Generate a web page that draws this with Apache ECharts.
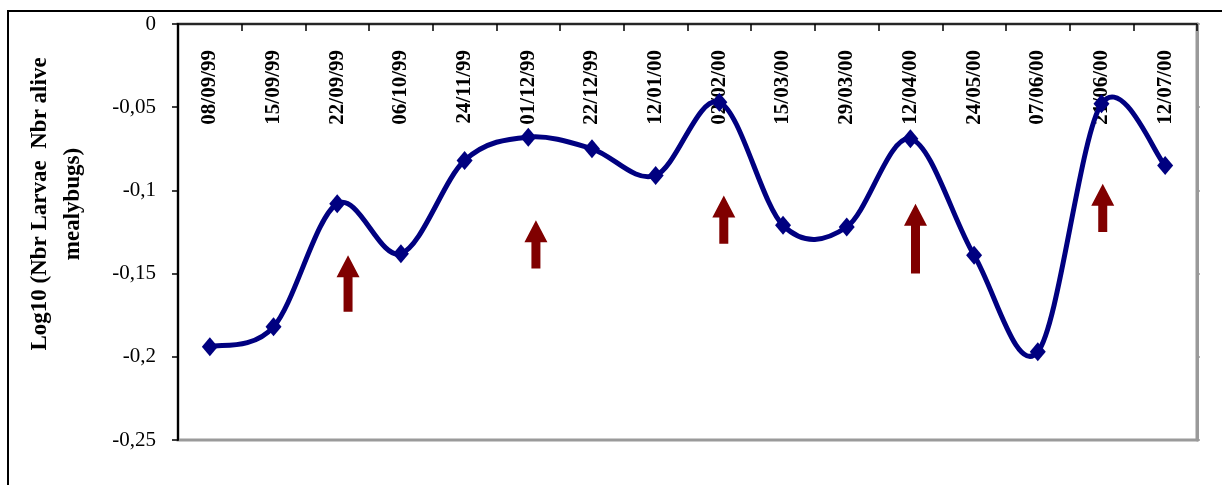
<!DOCTYPE html>
<html>
<head>
<meta charset="utf-8">
<script src="https://cdn.jsdelivr.net/npm/echarts@6/dist/echarts.min.js"></script>
<style>
  html, body { margin: 0; padding: 0; background: #fff; }
  #chart { width: 1222px; height: 485px; }
</style>
</head>
<body>
<div id="chart"></div>
<script>
// dates d'echantillonnage
var dates = ['08/09/99', '15/09/99', '22/09/99', '06/10/99', '24/11/99', '01/12/99', '22/12/99', '12/01/00',
             '02/02/00', '15/03/00', '29/03/00', '12/04/00', '24/05/00', '07/06/00', '21/06/00', '12/07/00'];
// Log10 (Nbr larves / Nbr cochenilles vivantes)
var logRatio = [-0.194, -0.182, -0.108, -0.138, -0.082, -0.068, -0.075, -0.091,
                -0.047, -0.121, -0.122, -0.069, -0.139, -0.197, -0.048, -0.085];
// fleches : position (indice de categorie), pointe, base
var arrowPos = [2.17, 5.12, 8.07, 11.08, 14.02];
var arrowTip = [-0.139, -0.118, -0.103, -0.108, -0.096];
var arrowBase = [-0.173, -0.147, -0.132, -0.150, -0.125];
// graduations de l'axe Y
var yTickLabels = ['-0,25', '-0,2', '-0,15', '-0,1', '-0,05', '0'];

var curveData = [];
for (var i = 0; i < logRatio.length; i++) {
    curveData.push([i, logRatio[i]]);
}
var arrowData = [];
for (var j = 0; j < arrowPos.length; j++) {
    arrowData.push([arrowPos[j], arrowTip[j], arrowBase[j]]);
}

var chart = echarts.init(document.getElementById('chart'));

// courbe lissee facon Excel (bezier, tangentes = (p[i+1]-p[i-1])/6)
function renderCurve(params, api) {
    var n = logRatio.length;
    var i = params.dataIndex;
    if (i >= n - 1) return null;
    function pt(k) {
        k = Math.max(0, Math.min(n - 1, k));
        return api.coord([k, logRatio[k]]);
    }
    var p0 = pt(i - 1), p1 = pt(i), p2 = pt(i + 1), p3 = pt(i + 2);
    return {
        type: 'bezierCurve',
        shape: {
            x1: p1[0], y1: p1[1],
            x2: p2[0], y2: p2[1],
            cpx1: p1[0] + (p2[0] - p0[0]) / 6, cpy1: p1[1] + (p2[1] - p0[1]) / 6,
            cpx2: p2[0] - (p3[0] - p1[0]) / 6, cpy2: p2[1] - (p3[1] - p1[1]) / 6
        },
        style: { fill: null, stroke: '#000080', lineWidth: 5, lineCap: 'round' }
    };
}

function renderArrow(params, api) {
    var tip = api.coord([api.value(0), api.value(1)]);
    var base = api.coord([api.value(0), api.value(2)]);
    var hw = 11.5, hh = 22, sw = 4.5;
    return {
        type: 'polygon',
        shape: {
            points: [
                [tip[0], tip[1]],
                [tip[0] + hw, tip[1] + hh],
                [tip[0] + sw, tip[1] + hh],
                [tip[0] + sw, base[1]],
                [tip[0] - sw, base[1]],
                [tip[0] - sw, tip[1] + hh],
                [tip[0] - hw, tip[1] + hh]
            ]
        },
        style: { fill: '#800000' }
    };
}

var option = {
    animation: false,
    backgroundColor: '#fff',
    graphic: [{
        type: 'rect',
        shape: { x: 8, y: 11, width: 1400, height: 600 },
        style: { fill: 'none', stroke: '#000', lineWidth: 2 },
        silent: true
    }],
    grid: {
        left: 178,
        top: 24,
        right: 25,
        bottom: 45,
        show: true,
        borderColor: '#9a9a9a',
        borderWidth: 3
    },
    xAxis: [{
        type: 'category',
        position: 'top',
        data: dates,
        boundaryGap: true,
        axisLine: { show: true, lineStyle: { color: '#000', width: 1.5 } },
        axisTick: { show: true, inside: true, length: 7, lineStyle: { color: '#000', width: 1.5 } },
        axisLabel: {
            inside: true,
            rotate: 90,
            margin: 26,
            interval: 0,
            color: '#000',
            fontFamily: 'Liberation Serif',
            fontWeight: 'bold',
            fontSize: 21
        },
        splitLine: { show: false }
    }, {
        // axe cache pour placer les fleches entre les dates
        type: 'value',
        min: -0.5,
        max: dates.length - 0.5,
        show: false
    }],
    yAxis: [{
        type: 'value',
        min: -0.25,
        max: 0,
        interval: 0.05,
        name: 'Log10 (Nbr Larvae  Nbr alive\nmealybugs)',
        nameLocation: 'middle',
        nameRotate: 90,
        nameGap: 88,
        nameTextStyle: {
            color: '#000',
            fontFamily: 'Liberation Serif',
            fontWeight: 'bold',
            fontSize: 23,
            lineHeight: 33,
            padding: [0, 0, 0, 56]
        },
        axisLine: { show: true, onZero: false, lineStyle: { color: '#000', width: 2 } },
        axisTick: { show: true, inside: false, length: 6, lineStyle: { color: '#000', width: 1.5 } },
        axisLabel: {
            margin: 22,
            color: '#000',
            fontFamily: 'Liberation Serif',
            fontSize: 21,
            formatter: function (value, index) { return yTickLabels[index]; }
        },
        splitLine: { show: false }
    }, {
        type: 'value',
        position: 'right',
        min: -0.25,
        max: 0,
        interval: 0.05,
        axisLine: { show: true, onZero: false, lineStyle: { color: '#9a9a9a', width: 3 } },
        axisTick: { show: true, length: 3, lineStyle: { color: '#9a9a9a', width: 1.5 } },
        axisLabel: { show: false },
        splitLine: { show: false }
    }],
    series: [{
        type: 'custom',
        data: curveData,
        encode: { x: 0, y: 1 },
        renderItem: renderCurve,
        z: 3
    }, {
        type: 'scatter',
        data: logRatio,
        symbol: 'diamond',
        symbolSize: [16, 19],
        itemStyle: { color: '#000080', opacity: 1 },
        z: 4
    }, {
        type: 'custom',
        xAxisIndex: 1,
        data: arrowData,
        encode: { x: 0, y: [1, 2] },
        renderItem: renderArrow,
        z: 2
    }]
};

chart.setOption(option);
</script>
</body>
</html>
